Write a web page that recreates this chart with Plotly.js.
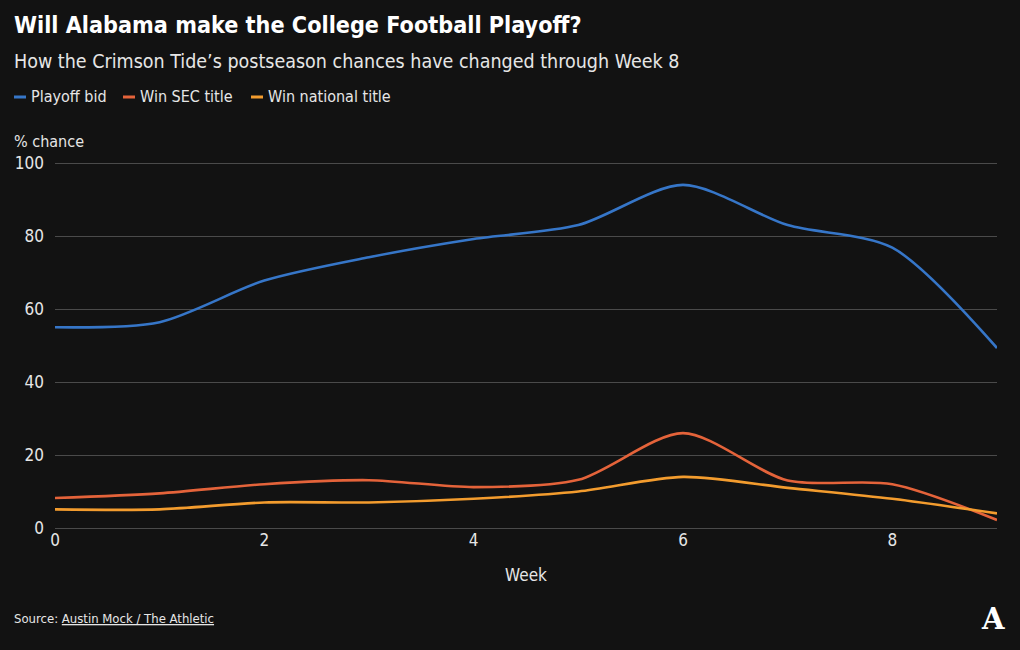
<!DOCTYPE html>
<html>
<head>
<meta charset="utf-8">
<script src="https://cdn.plot.ly/plotly-3.0.1.min.js"></script>
<style>
html,body{margin:0;padding:0;background:#121212;}
#chart{width:1020px;height:650px;}
</style>
</head>
<body>
<div id="chart"></div>
<script>
// Data
const weeks = [0, 1, 2, 3, 4, 5, 6, 7, 8, 9];
const playoffBid = [55, 56.4, 67.8, 74.2, 79.2, 83, 94, 83, 76.8, 49.3];
const winSEC = [8.2, 9.5, 12, 13.1, 11.2, 13.2, 26, 13, 12, 2.2];
const winNational = [5.1, 5.1, 7, 7, 8, 10, 14, 11, 8, 4];
const seriesNames = ['Playoff bid', 'Win SEC title', 'Win national title'];
const seriesColors = ['#3676c8', '#e4633a', '#f39c2e'];
const xTicks = [0, 2, 4, 6, 8];
const yTicks = [0, 20, 40, 60, 80, 100];

const W = 1020, H = 650;
const M = {l: 55, r: 23, t: 162, b: 122};
const pw = W - M.l - M.r, ph = H - M.t - M.b;
const px = x => (x - M.l) / pw;
const py = y => (H - M.b - y) / ph;

const FONT = '"DejaVu Sans Condensed", "Liberation Sans", sans-serif';

const allY = [playoffBid, winSEC, winNational];
const traces = allY.map((ys, i) => ({
  x: weeks, y: ys, name: seriesNames[i], type: 'scatter', mode: 'lines',
  line: {color: seriesColors[i], width: 2.6, shape: 'spline', smoothing: 0.8},
  hoverinfo: 'x+y+name'
}));

const annotations = [
  {text: '<b>Will Alabama make the College Football Playoff?</b>', x: px(12), y: py(24), xanchor: 'left', yanchor: 'middle',
   font: {family: FONT, size: 23.2, color: '#ffffff'}},
  {text: 'How the Crimson Tide\u2019s postseason chances have changed through Week 8', x: px(12), y: py(62), xanchor: 'left', yanchor: 'middle',
   font: {family: FONT, size: 19.5, color: '#e6e6e6'}},
  {text: '% chance', x: px(12), y: py(141), xanchor: 'left', yanchor: 'middle',
   font: {family: FONT, size: 16, color: '#e6e6e6'}},
  {text: 'Source: <u>Austin Mock / The Athletic</u>', x: px(12), y: py(618), xanchor: 'left', yanchor: 'middle',
   font: {family: FONT, size: 13, color: '#e6e6e6'}},
  {text: '<b>A</b>', x: px(993), y: py(619), xanchor: 'center', yanchor: 'middle',
   font: {family: '"DejaVu Serif", serif', size: 29, color: '#ffffff'}}
];
const legendX = [14, 123, 251];
const shapes = [];
seriesNames.forEach((n, i) => {
  shapes.push({type: 'line', xref: 'paper', yref: 'paper', x0: px(legendX[i]), x1: px(legendX[i] + 12),
    y0: py(97), y1: py(97), line: {color: seriesColors[i], width: 3}});
  annotations.push({text: n, x: px(legendX[i] + 15), y: py(97), xanchor: 'left', yanchor: 'middle',
    font: {family: FONT, size: 16, color: '#e6e6e6'}});
});
annotations.forEach(a => { a.xref = 'paper'; a.yref = 'paper'; a.showarrow = false; });

const layout = {
  width: W, height: H,
  margin: M,
  paper_bgcolor: '#121212', plot_bgcolor: '#121212',
  showlegend: false,
  font: {family: FONT, color: '#e6e6e6', size: 16},
  xaxis: {
    range: [0, 9], tickvals: xTicks, ticktext: xTicks.map(String),
    showgrid: false, zeroline: false, showline: false, ticks: '',
    tickfont: {family: FONT, size: 17, color: '#e6e6e6'},
    title: {text: 'Week', font: {family: FONT, size: 17, color: '#e6e6e6'}, standoff: 20}
  },
  yaxis: {
    range: [0, 100.28], tickvals: yTicks, ticktext: yTicks.map(String),
    showgrid: true, gridcolor: '#4a4a4a', gridwidth: 1,
    zeroline: true, zerolinecolor: '#4a4a4a', zerolinewidth: 1,
    showline: false, ticks: '', ticklabelstandoff: 10,
    tickfont: {family: FONT, size: 17, color: '#e6e6e6'}
  },
  annotations: annotations,
  shapes: shapes
};

Plotly.newPlot('chart', traces, layout, {displayModeBar: false, staticPlot: false});
</script>
</body>
</html>
